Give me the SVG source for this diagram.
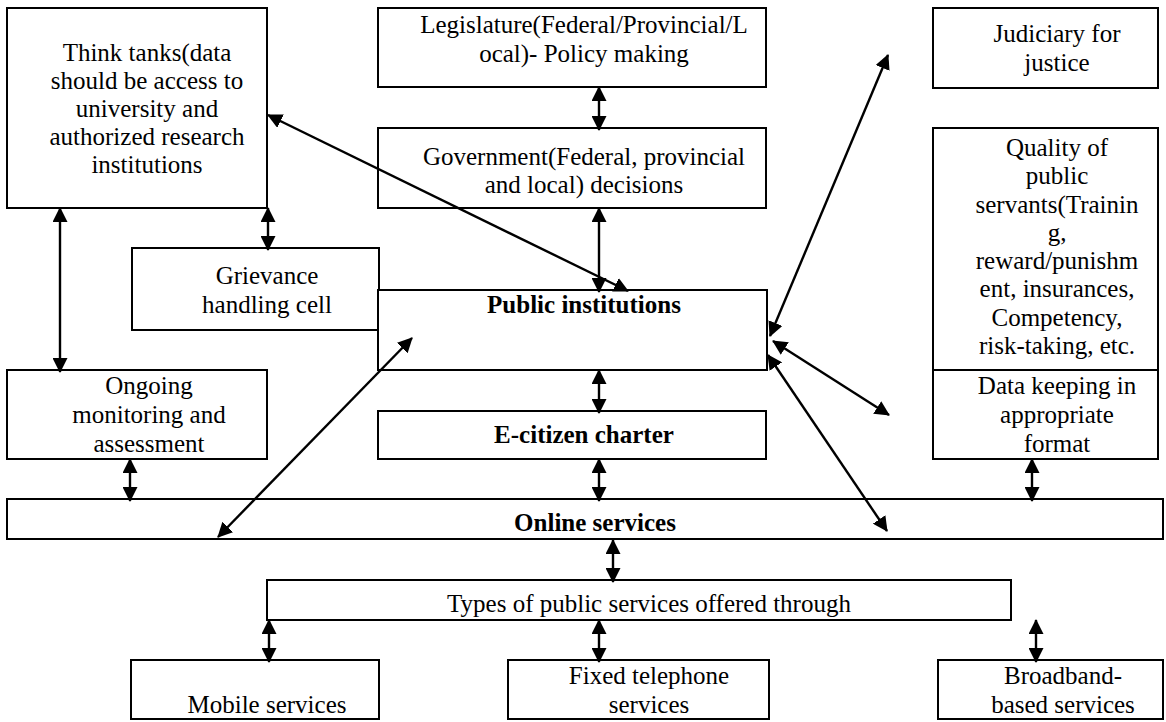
<svg xmlns="http://www.w3.org/2000/svg" width="1166" height="722" viewBox="0 0 1166 722">
<style>
rect.box{fill:#fff;stroke:#000;stroke-width:2}
text{font-size:25px;fill:#000;text-anchor:middle}
text.b{font-weight:bold}
.conn line{stroke:#000;stroke-width:2.4;marker-start:url(#ah);marker-end:url(#ah)}
</style>
<defs>
<marker id="ah" viewBox="0 0 15 15" markerWidth="15" markerHeight="15" refX="14" refY="7.5" orient="auto-start-reverse" markerUnits="userSpaceOnUse">
<path d="M0,0 L15,7.5 L0,15 z" fill="#000"/>
</marker>
</defs>
<rect width="1166" height="722" fill="#fff"/>
<g font-family="'Liberation Serif', 'Times New Roman', serif">
<g id="think-tanks"><rect class="box" x="7" y="8" width="260" height="200"/>
<text x="147" y="61">Think tanks(data</text><text x="147" y="89">should be access to</text><text x="147" y="117">university and</text><text x="147" y="145">authorized research</text><text x="147" y="173">institutions</text></g>
<g id="legislature"><rect class="box" x="378" y="8" width="388" height="79"/>
<text x="584" y="33">Legislature(Federal/Provincial/L</text><text x="584" y="62">ocal)- Policy making</text></g>
<g id="judiciary"><rect class="box" x="933" y="8" width="225" height="80"/>
<text x="1057" y="42">Judiciary for</text><text x="1057" y="71">justice</text></g>
<g id="government"><rect class="box" x="378" y="128" width="388" height="80"/>
<text x="584" y="165">Government(Federal, provincial</text><text x="584" y="193">and local) decisions</text></g>
<g id="quality"><rect class="box" x="933" y="128" width="225" height="242"/>
<text x="1057" y="156">Quality of</text><text x="1057" y="184">public</text><text x="1057" y="213">servants(Trainin</text><text x="1057" y="241">g,</text><text x="1057" y="269">reward/punishm</text><text x="1057" y="297">ent, insurances,</text><text x="1057" y="326">Competency,</text><text x="1057" y="354">risk-taking, etc.</text></g>
<g id="grievance"><rect class="box" x="132" y="248" width="247" height="82"/>
<text x="267" y="284">Grievance</text><text x="267" y="313">handling cell</text></g>
<g id="public-institutions"><rect class="box" x="378" y="290" width="389" height="80"/>
<text class="b" x="584" y="313">Public institutions</text></g>
<g id="ongoing"><rect class="box" x="7" y="370" width="260" height="89"/>
<text x="149" y="394">Ongoing</text><text x="149" y="423">monitoring and</text><text x="149" y="452">assessment</text></g>
<g id="data-keeping"><rect class="box" x="933" y="370" width="225" height="89"/>
<text x="1057" y="394">Data keeping in</text><text x="1057" y="423">appropriate</text><text x="1057" y="452">format</text></g>
<g id="e-citizen"><rect class="box" x="378" y="411" width="388" height="48"/>
<text class="b" x="584" y="443">E-citizen charter</text></g>
<g id="online"><rect class="box" x="7" y="499" width="1156" height="40"/>
<text class="b" x="595" y="531">Online services</text></g>
<g id="types"><rect class="box" x="267" y="580" width="744" height="40"/>
<text x="649" y="612">Types of public services offered through</text></g>
<g id="mobile"><rect class="box" x="131" y="660" width="248" height="59"/>
<text x="267" y="713">Mobile services</text></g>
<g id="fixed"><rect class="box" x="508" y="660" width="261" height="59"/>
<text x="649" y="684">Fixed telephone</text><text x="649" y="713">services</text></g>
<g id="broadband"><rect class="box" x="938" y="660" width="225" height="59"/>
<text x="1063" y="684">Broadband-</text><text x="1063" y="713">based services</text></g>
</g>
<g id="connectors" class="conn">
<line x1="599" y1="87" x2="599" y2="130"/>
<line x1="599" y1="208" x2="599" y2="292"/>
<line x1="268" y1="115" x2="628" y2="291"/>
<line x1="268" y1="208" x2="268" y2="250"/>
<line x1="60" y1="208" x2="60" y2="372"/>
<line x1="770" y1="336" x2="888" y2="55"/>
<line x1="773" y1="341" x2="889" y2="415"/>
<line x1="768" y1="355" x2="887" y2="531"/>
<line x1="412" y1="338" x2="218" y2="537"/>
<line x1="599" y1="370" x2="599" y2="413"/>
<line x1="599" y1="459" x2="599" y2="501"/>
<line x1="130" y1="459" x2="130" y2="501"/>
<line x1="1032" y1="459" x2="1032" y2="501"/>
<line x1="613" y1="540" x2="613" y2="582"/>
<line x1="269" y1="620" x2="269" y2="662"/>
<line x1="599" y1="620" x2="599" y2="662"/>
<line x1="1036" y1="620" x2="1036" y2="662"/>
</g>
</svg>
